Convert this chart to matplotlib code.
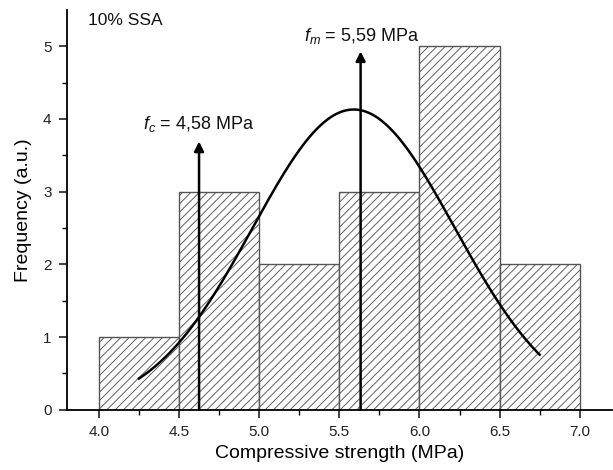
import numpy as np
import matplotlib
matplotlib.use("Agg")
import matplotlib.pyplot as plt

plt.rcParams['font.family'] = ['Liberation Sans', 'DejaVu Sans']
plt.rcParams['mathtext.fontset'] = 'custom'
plt.rcParams['mathtext.rm'] = 'Liberation Sans'
plt.rcParams['mathtext.it'] = 'Liberation Sans:italic'
plt.rcParams['hatch.linewidth'] = 0.65
plt.rcParams['hatch.color'] = '#8a8a8a'

# Histogram data
bin_edges = [4.0, 4.5, 5.0, 5.5, 6.0, 6.5, 7.0]
frequencies = [1, 3, 2, 3, 5, 2]

# Normal fit parameters (fitted curve drawn over the histogram)
fit_mean = 5.59
fit_sigma = 0.63
fit_peak = 4.13
fit_range = [4.25, 6.75]

# Annotations
fc_x, fc_top = 4.625, 3.69
fm_x, fm_top = 5.633, 4.93

x_ticks = [4.0, 4.5, 5.0, 5.5, 6.0, 6.5, 7.0]
y_ticks = [0, 1, 2, 3, 4, 5]

fig = plt.figure(figsize=(6.13, 4.70), dpi=100)
ax = fig.add_axes([0.109, 0.128, 0.889, 0.851])

lefts = bin_edges[:-1]
widths = np.diff(bin_edges)
ax.bar(lefts, frequencies, width=widths, align='edge', facecolor='white',
       edgecolor='#555555', linewidth=1.0, hatch='////', zorder=2)

xs = np.linspace(fit_range[0], fit_range[1], 300)
ys = fit_peak * np.exp(-(xs - fit_mean) ** 2 / (2 * fit_sigma ** 2))
ax.plot(xs, ys, color='black', lw=1.8, zorder=4)

for x0, top in [(fc_x, fc_top), (fm_x, fm_top)]:
    ax.annotate('', xy=(x0, top), xytext=(x0, 0),
                arrowprops=dict(arrowstyle='-|>', color='black', lw=1.8,
                                mutation_scale=14, shrinkA=0, shrinkB=0),
                zorder=5)

ax.text(4.277, 3.86, r'$f_c$ = 4,58 MPa', fontsize=13, color='#111111')
ax.text(5.277, 5.07, r'$f_m$ = 5,59 MPa', fontsize=13, color='#111111')
ax.text(3.933, 5.29, '10% SSA', fontsize=12.5, color='#111111')

ax.set_xlim(3.8, 7.2)
ax.set_ylim(0, 5.5)
ax.set_xticks(x_ticks)
ax.set_xticklabels([f'{v:.1f}' for v in x_ticks])
ax.set_yticks(y_ticks)
ax.set_xticks(np.arange(4.25, 7.0, 0.5), minor=True)
ax.set_yticks(np.arange(0.5, 5.5, 1.0), minor=True)
ax.tick_params(which='major', direction='out', length=6, width=1.2, labelsize=11,
               colors='#222222', pad=5)
ax.tick_params(which='minor', direction='out', length=3.5, width=1.0)

for s in ['top', 'right']:
    ax.spines[s].set_visible(False)
for s in ['left', 'bottom']:
    ax.spines[s].set_linewidth(1.3)

ax.set_xlabel('Compressive strength (MPa)', fontsize=14, labelpad=4)
ax.set_ylabel('Frequency (a.u.)', fontsize=14, labelpad=8)

fig.savefig('out.png', dpi=100)
